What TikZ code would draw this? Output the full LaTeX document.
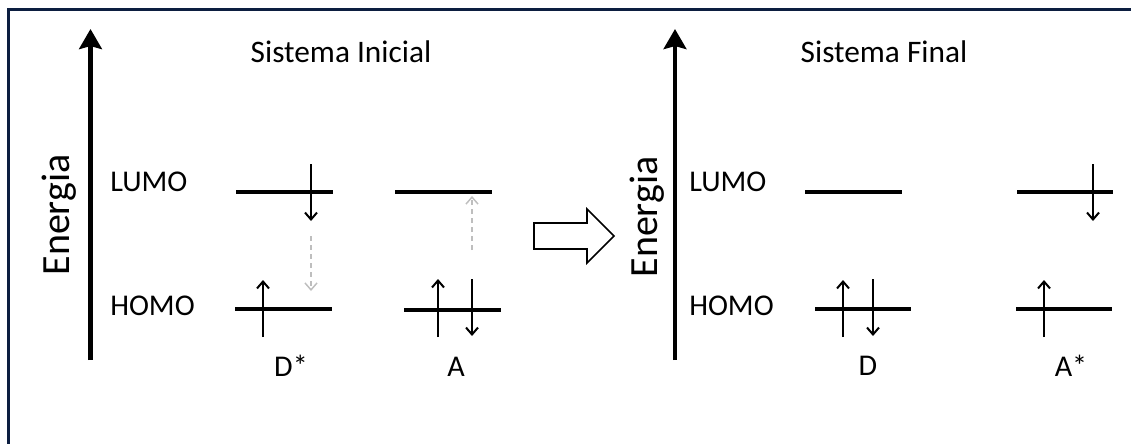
\documentclass[tikz,border=0pt]{standalone}
\usepackage{fontspec}
\setmainfont{Carlito}
\usetikzlibrary{arrows.meta}
\definecolor{frame}{RGB}{12,30,64}
\definecolor{lgray}{RGB}{190,190,190}
\begin{document}
\begin{tikzpicture}[x=0.75pt,y=-0.75pt,
  lbl/.style={inner sep=0pt,font=\fontsize{22.6}{26}\selectfont},
  ttl/.style={inner sep=0pt,font=\fontsize{23.5}{27}\selectfont},
  elabel/.style={inner sep=0pt,font=\fontsize{30}{34}\selectfont,rotate=90},
  level/.style={line width=3pt},
  axis/.style={line width=3.5pt,-{Stealth[length=15pt,width=17pt,inset=2.2pt]}},
  spin/.style={line width=1.5pt,-{Straight Barb[length=5.2pt,width=9pt]}},
  transfer/.style={line width=1.1pt,lgray,dash pattern=on 3.75pt off 3pt,-{Straight Barb[length=5.2pt,width=9pt]}}
]
\useasboundingbox (0,0) rectangle (1131,443);
% frame
\draw[frame,line width=2.6pt] (8.5,445) -- (8.5,9.5) -- (1133,9.5);

% ---------- left panel ----------
\coordinate (ax1b) at (90.5,360);
\coordinate (ax1t) at (90.5,29);
\draw[axis] (ax1b) -- (ax1t);
\node[elabel] (en1) at (59,215) {Energia};
\node[lbl,anchor=west] (lumo1) at (110,182) {LUMO};
\node[lbl,anchor=west] (homo1) at (110,306) {HOMO};
\node[ttl] (title1) at (341,52) {Sistema Inicial};

% D*
\coordinate (dsl1) at (236,192); \coordinate (dsl2) at (333,192);
\coordinate (dsh1) at (235,309); \coordinate (dsh2) at (332,309);
\draw[level] (dsl1) -- (dsl2);
\draw[level] (dsh1) -- (dsh2);
\coordinate (dsa1) at (311,164); \coordinate (dsa2) at (311,221);
\draw[spin] (dsa1) -- (dsa2);
\coordinate (dsb1) at (263,337); \coordinate (dsb2) at (263,280);
\draw[spin] (dsb1) -- (dsb2);
\coordinate (dst1) at (311,236); \coordinate (dst2) at (311,291);
\draw[transfer] (dst1) -- (dst2);
\node[lbl] (dstar) at (291,366) {D*};

% A
\coordinate (al1) at (395,192); \coordinate (al2) at (492,192);
\coordinate (ah1) at (404,310); \coordinate (ah2) at (501,310);
\draw[level] (al1) -- (al2);
\draw[level] (ah1) -- (ah2);
\coordinate (aa1) at (438,337); \coordinate (aa2) at (438,279);
\draw[spin] (aa1) -- (aa2);
\coordinate (ab1) at (472,279); \coordinate (ab2) at (472,336);
\draw[spin] (ab1) -- (ab2);
\coordinate (at1) at (472,250); \coordinate (at2) at (472,196);
\draw[transfer] (at1) -- (at2);
\node[lbl] (alabel) at (456,367) {A};

% big hollow arrow
\draw[line width=1.2pt,fill=white,line join=miter] (534,223) -- (587,223) -- (587,209) -- (614,236) -- (587,263) -- (587,249) -- (534,249) -- cycle;

% ---------- right panel ----------
\coordinate (ax2b) at (675,360);
\coordinate (ax2t) at (675,29);
\draw[axis] (ax2b) -- (ax2t);
\node[elabel] (en2) at (647,217) {Energia};
\node[lbl,anchor=west] (lumo2) at (689,182) {LUMO};
\node[lbl,anchor=west] (homo2) at (689,306) {HOMO};
\node[ttl] (title2) at (884,52) {Sistema Final};

% D
\coordinate (dl1) at (805,192); \coordinate (dl2) at (902,192);
\coordinate (dh1) at (815,309); \coordinate (dh2) at (911,309);
\draw[level] (dl1) -- (dl2);
\draw[level] (dh1) -- (dh2);
\coordinate (da1) at (843,337); \coordinate (da2) at (843,280);
\draw[spin] (da1) -- (da2);
\coordinate (db1) at (873,279); \coordinate (db2) at (873,336);
\draw[spin] (db1) -- (db2);
\node[lbl] (dlabel) at (868,366) {D};

% A*
\coordinate (asl1) at (1017,192); \coordinate (asl2) at (1113,192);
\coordinate (ash1) at (1016,309); \coordinate (ash2) at (1112,309);
\draw[level] (asl1) -- (asl2);
\draw[level] (ash1) -- (ash2);
\coordinate (asa1) at (1093,164); \coordinate (asa2) at (1093,221);
\draw[spin] (asa1) -- (asa2);
\coordinate (asb1) at (1044,337); \coordinate (asb2) at (1044,280);
\draw[spin] (asb1) -- (asb2);
\node[lbl] (astar) at (1071,366) {A*};
\end{tikzpicture}
\end{document}
